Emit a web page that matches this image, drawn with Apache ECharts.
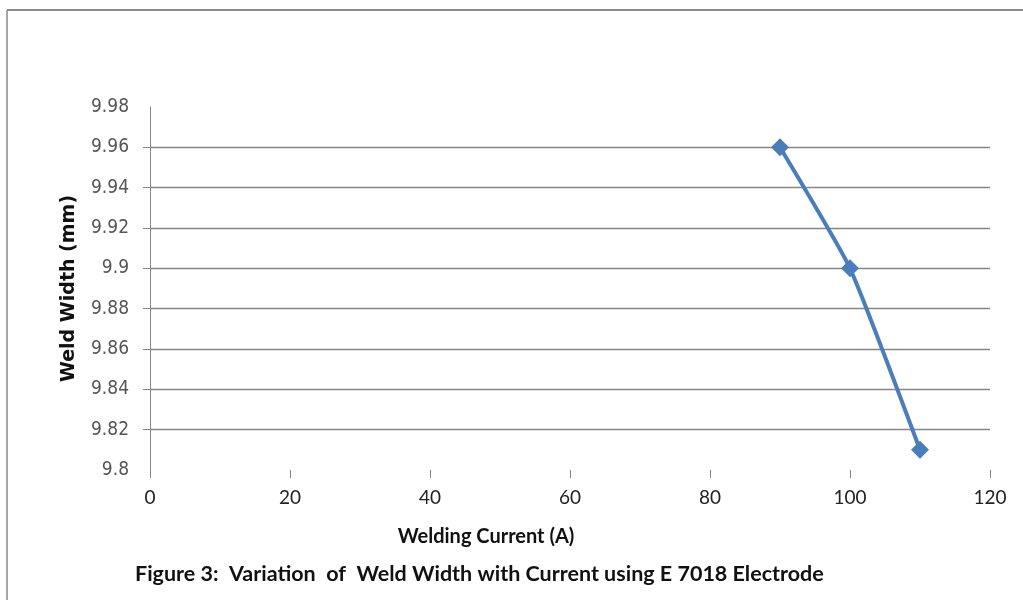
<!DOCTYPE html>
<html>
<head>
<meta charset="utf-8">
<script src="https://cdn.jsdelivr.net/npm/echarts@6/dist/echarts.min.js"></script>
<style>
  html, body { margin: 0; padding: 0; background: #fff; }
  #chart { width: 1023px; height: 600px; }
</style>
</head>
<body>
<div id="chart"></div>
<script>
// data
const current = [90, 100, 110];
const weldWidth = [9.96, 9.9, 9.81];
// inner y ticks / gridlines (Excel draws none at the min/max)
const yTicks = [9.82, 9.84, 9.86, 9.88, 9.9, 9.92, 9.94, 9.96];

var chart = echarts.init(document.getElementById('chart'));

const gridColor = '#868686';

var option = {
  backgroundColor: '#ffffff',
  animation: false,
  title: {
    text: 'Figure 3:  Variation  of  Weld Width with Current using E 7018 Electrode',
    left: 130,
    top: 558,
    textStyle: { fontFamily: 'Lato', fontSize: 21.5, fontWeight: 'bold', color: '#111' }
  },
  graphic: [
    // frame lines around the figure (top and left only)
    { type: 'line', shape: { x1: 7, y1: 10, x2: 1023, y2: 10 }, style: { stroke: '#8a8a8a', lineWidth: 2 } },
    { type: 'line', shape: { x1: 7, y1: 10, x2: 7, y2: 600 }, style: { stroke: '#8a8a8a', lineWidth: 1.5 } }
  ],
  grid: { left: 150, right: 33, top: 107, bottom: 130 },
  xAxis: {
    type: 'value',
    min: 0,
    max: 120,
    interval: 20,
    name: 'Welding Current (A)',
    nameLocation: 'middle',
    nameGap: 57,
    nameTextStyle: { fontFamily: 'Lato', fontSize: 20, fontWeight: 'bold', color: '#111', padding: [0, 168, 0, 0] },
    axisLine: { show: false },
    axisTick: { show: true, length: 8, lineStyle: { color: gridColor } },
    axisLabel: { margin: 18, fontFamily: 'Lato', fontSize: 19, color: '#222' },
    splitLine: { show: false }
  },
  yAxis: {
    type: 'value',
    min: 9.8,
    max: 9.98,
    interval: 0.02,
    name: 'Weld Width (mm)',
    nameLocation: 'middle',
    nameGap: 71,
    nameTextStyle: { fontFamily: 'DejaVu Sans', fontSize: 19, fontWeight: 'bold', color: '#111' },
    axisLine: { show: true, lineStyle: { color: gridColor, width: 1 } },
    axisTick: { show: true, length: 7, customValues: yTicks, lineStyle: { color: gridColor } },
    axisLabel: {
      margin: 21,
      fontFamily: 'Liberation Sans Narrow, DejaVu Sans Condensed, Lato',
      fontSize: 19,
      color: '#555',
      formatter: function (v) { return String(parseFloat(v.toFixed(2))); }
    },
    splitLine: { show: true, lineStyle: { color: gridColor, width: 1.3 } }
  },
  series: [
    {
      type: 'line',
      data: current.map(function (c, i) { return [c, weldWidth[i]]; }),
      smooth: 0.15,
      symbol: 'diamond',
      symbolSize: 18,
      lineStyle: { color: '#4a7ebb', width: 4 },
      itemStyle: { color: '#4a7ebb' }
    }
  ]
};

chart.setOption(option);
</script>
</body>
</html>
